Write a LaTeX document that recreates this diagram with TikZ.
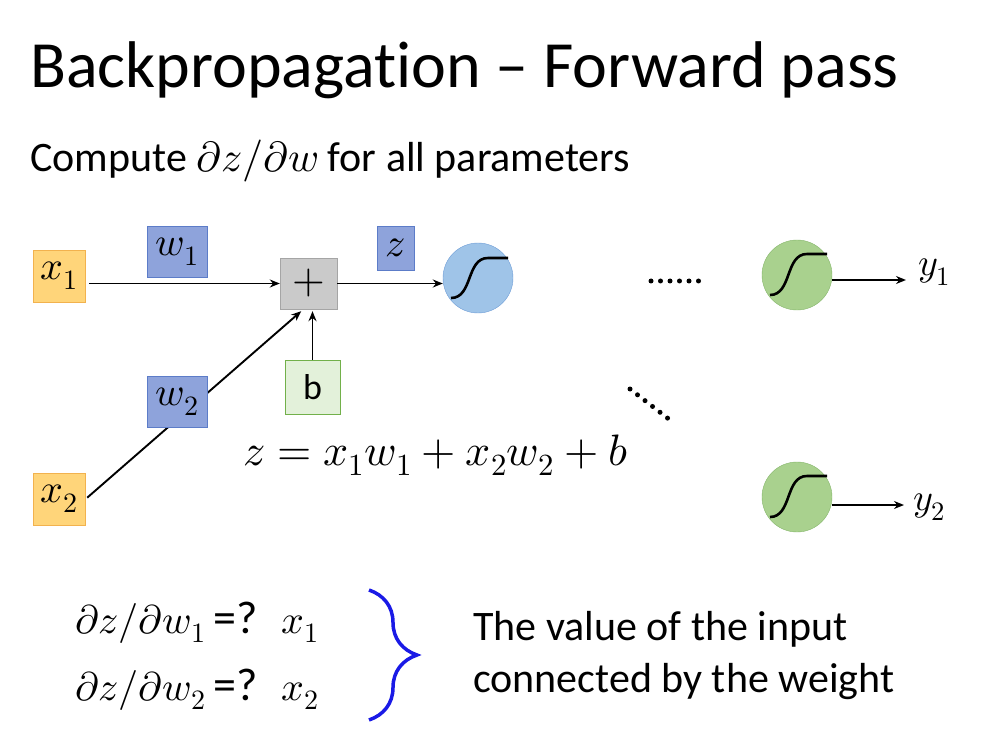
\documentclass[tikz,border=0pt]{standalone}
\usepackage{fontspec}
\usepackage{unicode-math}
\setmainfont{Carlito}[Ligatures={TeX,NoCommon}]
\setmathfont{Latin Modern Math}
\usetikzlibrary{arrows.meta}
\usetikzlibrary{decorations.pathreplacing}
\definecolor{inputfill}{HTML}{FFD57A}
\definecolor{inputdraw}{HTML}{F2B24E}
\definecolor{weightfill}{HTML}{8EA3DB}
\definecolor{weightdraw}{HTML}{5C7CC8}
\definecolor{sumfill}{HTML}{CACACA}
\definecolor{sumdraw}{HTML}{A5A5A5}
\definecolor{biasfill}{HTML}{E3F1DA}
\definecolor{biasdraw}{HTML}{72B04A}
\definecolor{hiddenfill}{HTML}{9FC4E8}
\definecolor{hiddendraw}{HTML}{6D9CD6}
\definecolor{outfill}{HTML}{A9D18E}
\definecolor{outdraw}{HTML}{84B56A}
\definecolor{bracecol}{HTML}{1A1AE6}

\begin{document}
\begin{tikzpicture}[x=1pt,y=-1pt]
\tikzset{font=\fontsize{42}{46}\selectfont}
\tikzset{every node/.style={inner sep=0pt}}
\tikzset{wire/.style={line width=1.9pt, -{Stealth[length=10pt,width=8pt]}}}
\tikzset{inputbox/.style={draw=inputdraw, fill=inputfill, minimum width=52pt, minimum height=52pt}}
\tikzset{weightbox/.style={draw=weightdraw, fill=weightfill, minimum width=60pt, minimum height=51pt}}
\tikzset{neuron/.style={circle, minimum size=70pt}}
\tikzset{sigcurve/.style={line width=2.6pt}}
\tikzset{dotline/.style={line width=5pt, line cap=round, dash pattern=on 0pt off 9.5pt}}
\useasboundingbox (0,0) rectangle (983,738);

% heading
\node[anchor=base west, font=\fontsize{66}{70}\selectfont] (title) at (30,88) {Backpropagation – Forward pass};
\node[anchor=base west] (task) at (30,172) {Compute $\partial z/\partial w$ for all parameters};

% neuron
\node[inputbox, font=\fontsize{40}{44}\selectfont] (x1) at (59,276) {$x_1$};
\node[inputbox, font=\fontsize{40}{44}\selectfont] (x2) at (59.5,499) {$x_2$};
\node[draw=sumdraw, fill=sumfill, minimum width=57pt, minimum height=51pt] (plus) at (308.5,283.5) {$+$};
\node[draw=biasdraw, fill=biasfill, minimum width=55pt, minimum height=54pt, font=\fontsize{36}{40}\selectfont] (b) at (312.5,387) {b};
\node[neuron, draw=hiddendraw, fill=hiddenfill] (sig1) at (478,278) {};
\draw[wire, shorten <=4pt] (x1.east |- plus.west) -- (plus.west);
\draw[wire, shorten <=2pt, shorten >=3pt] (x2.east) -- (plus.-101);
\draw[wire, shorten >=2pt] (b.north) -- (b.north |- plus.south);
\draw[wire] (plus.east) -- (sig1.west |- plus.east);
\node[weightbox, font=\fontsize{40}{44}\selectfont] (w1) at (177.5,251.5) {$w_1$};
\node[weightbox, font=\fontsize{40}{44}\selectfont] (w2) at (177.5,401.5) {$w_2$};
\node[weightbox, minimum width=37pt, minimum height=44pt, font=\fontsize{40}{44}\selectfont] (zbox) at (395.5,248) {$z$};
\draw[sigcurve] (sig1) ++(-27,20) .. controls +(22,0) and +(-22,0) .. ++(37,-40) -- ++(20,0);
\node[anchor=base west, font=\fontsize{44}{48}\selectfont] (eq) at (243,465) {$z=x_1w_1+x_2w_2+b$};

% output layer
\draw[dotline] (651,281) -- (702,281);
\draw[dotline] (630,389) -- (670,420);
\node[neuron, draw=outdraw, fill=outfill] (sig2) at (797,275) {};
\node[neuron, draw=outdraw, fill=outfill] (sig3) at (797,497) {};
\draw[sigcurve] (sig2) ++(-27,20) .. controls +(22,0) and +(-22,0) .. ++(37,-41) -- ++(20,0);
\draw[sigcurve] (sig3) ++(-27,20) .. controls +(22,0) and +(-22,0) .. ++(37,-41) -- ++(20,0);
\node[anchor=west, font=\fontsize{38}{42}\selectfont] (y1) at (918,272) {$y_1$};
\node[anchor=west, font=\fontsize{38}{42}\selectfont] (y2) at (913,507) {$y_2$};
\draw[wire] (sig2.east |- 0,280) -- (906,280);
\draw[wire] (sig3.east |- 0,505) -- (904,505);

% result
\node[anchor=base west, font=\fontsize{40}{44}\selectfont] (d1) at (75,633) {$\partial z/\partial w_1$\hspace{8pt}{\fontsize{46}{48}\selectfont =?}\hspace{24pt}$x_1$};
\node[anchor=base west, font=\fontsize{40}{44}\selectfont] (d2) at (75,700) {$\partial z/\partial w_2$\hspace{8pt}{\fontsize{46}{48}\selectfont =?}\hspace{24pt}$x_2$};
\draw[bracecol, line width=3.5pt, decorate, decoration={brace, amplitude=48pt}] (369,590) -- (369,720);
\node[anchor=base west] (note1) at (473,640) {The value of the input};
\node[anchor=base west] (note2) at (473,692) {connected by the weight};
\end{tikzpicture}
\end{document}
